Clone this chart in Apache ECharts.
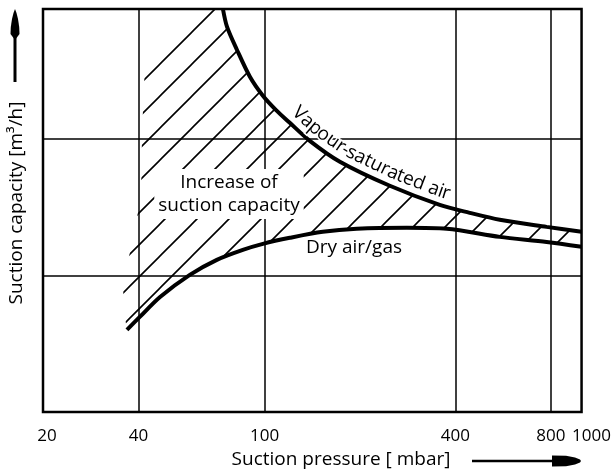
<!DOCTYPE html>
<html>
<head>
<meta charset="utf-8">
<script src="https://cdn.jsdelivr.net/npm/echarts@6/dist/echarts.min.js"></script>
<style>
  html, body { margin: 0; padding: 0; background: #fff; }
  #chart { width: 614px; height: 472px; }
</style>
</head>
<body>
<div id="chart"></div>
<script>
// ---- data ----
const pressureTicks = [20, 40, 100, 400, 800, 1000];      // x tick labels, mbar
const gridPressures = [40, 100, 400, 800];                 // vertical grid lines
const vapourP = [73.9, 76.1, 81.8, 89.9, 98.8, 108.5, 120.1, 138.9, 172.8, 248.4, 357, 443.7, 552, 776, 1000];
const vapourC = [2.95, 2.821, 2.652, 2.454, 2.315, 2.212, 2.117, 1.985, 1.832, 1.656, 1.516, 1.458, 1.407, 1.355, 1.319];
const dryP = [36.8, 40.4, 46.8, 58.1, 70.7, 85.4, 98.8, 120.1, 152.6, 195.4, 281, 375.6, 552, 776, 1000];
const dryC = [0.601, 0.696, 0.842, 1.004, 1.114, 1.187, 1.231, 1.275, 1.319, 1.341, 1.348, 1.341, 1.282, 1.245, 1.209];
const hatchEdgeP = [36.3, 35.7, 38.2, 40.4, 41.0, 41.0, 41.9, 62.5];
const hatchEdgeC = [0.69, 0.93, 1.24, 1.53, 1.77, 2.01, 2.52, 2.95];
const vapourLabel = 'Vapour-saturated air';
const dryLabel = 'Dry air/gas';
const areaLabel = 'Increase of\nsuction capacity';
const xName = 'Suction pressure [ mbar]';
const yName = 'Suction capacity [m\u00B3/h]';

const FONT = '"Open Sans", "Noto Sans", sans-serif';

// hatch pattern
const tile = document.createElement('canvas');
const TS = 32;
tile.width = TS; tile.height = TS;
(function () {
  const c = tile.getContext('2d');
  c.strokeStyle = '#000';
  c.lineWidth = 1.6;
  c.beginPath();
  c.moveTo(-2, TS + 2); c.lineTo(TS + 2, -2);
  c.moveTo(-2, 2); c.lineTo(2, -2);
  c.moveTo(TS - 2, TS + 2); c.lineTo(TS + 2, TS - 2);
  c.stroke();
})();
const hatchPattern = { image: tile, repeat: 'repeat' };

const measureCtx = document.createElement('canvas').getContext('2d');

function curveText(api, ps, cs, text, startP, offset, fontSize) {
  const pts = ps.map((p, i) => api.coord([p, cs[i]]));
  const cum = [0];
  for (let i = 1; i < pts.length; i++) {
    cum.push(cum[i - 1] + Math.hypot(pts[i][0] - pts[i - 1][0], pts[i][1] - pts[i - 1][1]));
  }
  function at(s) {
    for (let i = 1; i < pts.length; i++) {
      if (s <= cum[i] || i === pts.length - 1) {
        const t = (s - cum[i - 1]) / (cum[i] - cum[i - 1]);
        return [pts[i - 1][0] + t * (pts[i][0] - pts[i - 1][0]), pts[i - 1][1] + t * (pts[i][1] - pts[i - 1][1])];
      }
    }
  }
  const startX = api.coord([startP, 1])[0];
  let s0 = 0;
  for (let i = 1; i < pts.length; i++) {
    if (pts[i][0] >= startX) {
      const t = (startX - pts[i - 1][0]) / (pts[i][0] - pts[i - 1][0]);
      s0 = cum[i - 1] + t * (cum[i] - cum[i - 1]);
      break;
    }
  }
  measureCtx.font = fontSize + 'px ' + FONT;
  const children = [];
  let s = s0;
  for (const ch of text) {
    const w = measureCtx.measureText(ch).width;
    const m = at(s + w / 2);
    const a = at(s + w / 2 - 8), b = at(s + w / 2 + 8);
    let tx = b[0] - a[0], ty = b[1] - a[1];
    const L = Math.hypot(tx, ty); tx /= L; ty /= L;
    const nx = ty, ny = -tx;
    children.push({
      type: 'text',
      x: m[0] + nx * offset,
      y: m[1] + ny * offset,
      rotation: -Math.atan2(ty, tx),
      z2: 10,
      style: {
        text: ch, fontSize: fontSize, fontFamily: FONT, fill: '#000',
        align: 'center', verticalAlign: 'middle',
        stroke: '#fff', lineWidth: 3
      }
    });
    s += w;
  }
  return children;
}

const chart = echarts.init(document.getElementById('chart'), null, { renderer: 'canvas' });

chart.setOption({
  animation: false,
  backgroundColor: '#fff',
  grid: {
    left: 43, right: 32, top: 9, bottom: 60,
    show: true, borderColor: '#000', borderWidth: 2.5, backgroundColor: 'transparent'
  },
  xAxis: {
    type: 'log', logBase: 10, min: 20, max: 1000,
    axisLine: { show: false },
    axisTick: { show: false },
    splitLine: { show: false },
    minorSplitLine: { show: false },
    axisLabel: {
      customValues: pressureTicks,
      showMinLabel: true, showMaxLabel: true, hideOverlap: false,
      color: '#000', fontSize: 17, fontFamily: FONT, margin: 16,
      formatter: v => {
        const r = Math.round(v);
        if (r === 1000) return '{shift|' + r + '}';
        if (r === 20) return '{shiftS|' + r + '}';
        return String(r);
      },
      rich: {
        shift: { fontSize: 17, fontFamily: FONT, color: '#000', padding: [0, 0, 0, 20] },
        shiftS: { fontSize: 17, fontFamily: FONT, color: '#000', padding: [0, 0, 0, 8] }
      }
    }
  },
  yAxis: {
    type: 'value', min: 0, max: 2.95, interval: 1,
    axisLine: { show: false },
    axisTick: { show: false },
    axisLabel: { show: false },
    splitLine: { show: true, lineStyle: { color: '#000', width: 1.5 } }
  },
  series: [
    {
      type: 'custom', coordinateSystem: 'cartesian2d', silent: true, z: 1,
      data: [[vapourP[0], vapourC[0]]],
      renderItem: (params, api) => {
        const pts = [];
        vapourP.forEach((p, i) => pts.push(api.coord([p, vapourC[i]])));
        for (let i = dryP.length - 1; i >= 0; i--) pts.push(api.coord([dryP[i], dryC[i]]));
        hatchEdgeP.forEach((p, i) => pts.push(api.coord([p, hatchEdgeC[i]])));
        return { type: 'polygon', shape: { points: pts }, style: { fill: hatchPattern, stroke: null } };
      }
    },
    {
      name: 'Vapour-saturated air', type: 'line', z: 3,
      data: vapourP.map((p, i) => [p, vapourC[i]]),
      smooth: 0.3, showSymbol: false, silent: true,
      lineStyle: { color: '#000', width: 4 }
    },
    {
      name: 'Dry air/gas', type: 'line', z: 3,
      data: dryP.map((p, i) => [p, dryC[i]]),
      smooth: 0.3, showSymbol: false, silent: true,
      lineStyle: { color: '#000', width: 4 },
      markLine: {
        silent: true, symbol: ['none', 'none'], label: { show: false },
        lineStyle: { color: '#000', width: 1.5, type: 'solid' },
        data: gridPressures.map(p => ({ xAxis: p }))
      }
    },
    {
      type: 'custom', coordinateSystem: 'cartesian2d', silent: true, z: 5,
      data: [[vapourP[0], vapourC[0]]],
      renderItem: (params, api) => ({
        type: 'group',
        children: curveText(api, vapourP, vapourC, vapourLabel, 117, 13, 19)
      })
    }
  ],
  graphic: [
    {
      type: 'text', x: 229, y: 194, z: 100,
      style: {
        text: areaLabel, fontSize: 19, fontFamily: FONT, fill: '#000',
        align: 'center', verticalAlign: 'middle', lineHeight: 23,
        backgroundColor: '#fff', padding: [2, 4]
      }
    },
    {
      type: 'text', x: 306, y: 248, z: 100,
      style: {
        text: dryLabel, fontSize: 19, fontFamily: FONT, fill: '#000',
        align: 'left', verticalAlign: 'middle',
        stroke: '#fff', lineWidth: 3
      }
    },
    {
      type: 'text', x: 341, y: 460, z: 100,
      style: { text: xName, fontSize: 19, fontFamily: FONT, fill: '#000', align: 'center', verticalAlign: 'middle' }
    },
    {
      type: 'text', x: 17, y: 203, rotation: Math.PI / 2, z: 100,
      style: { text: yName, fontSize: 19, fontFamily: FONT, fill: '#000', align: 'center', verticalAlign: 'middle' }
    },
    // x arrow
    { type: 'line', z: 100, shape: { x1: 472, y1: 461, x2: 556, y2: 461 }, style: { stroke: '#000', lineWidth: 2.5 } },
    {
      type: 'polygon', z: 100,
      shape: { points: [[552, 455.5], [566, 455.8], [575, 457.5], [580, 459.5], [581, 461], [580, 462.5], [575, 464.5], [566, 466.2], [552, 466.5]] },
      style: { fill: '#000' }
    },
    // y arrow
    { type: 'line', z: 100, shape: { x1: 15, y1: 36, x2: 15, y2: 82 }, style: { stroke: '#000', lineWidth: 3 } },
    {
      type: 'polygon', z: 100,
      shape: { points: [[15, 9], [16.5, 13], [18, 19], [19.2, 27], [19.5, 34], [15, 40], [10.5, 34], [10.8, 27], [12, 19], [13.5, 13]] },
      style: { fill: '#000' }
    }
  ]
});
</script>
</body>
</html>
